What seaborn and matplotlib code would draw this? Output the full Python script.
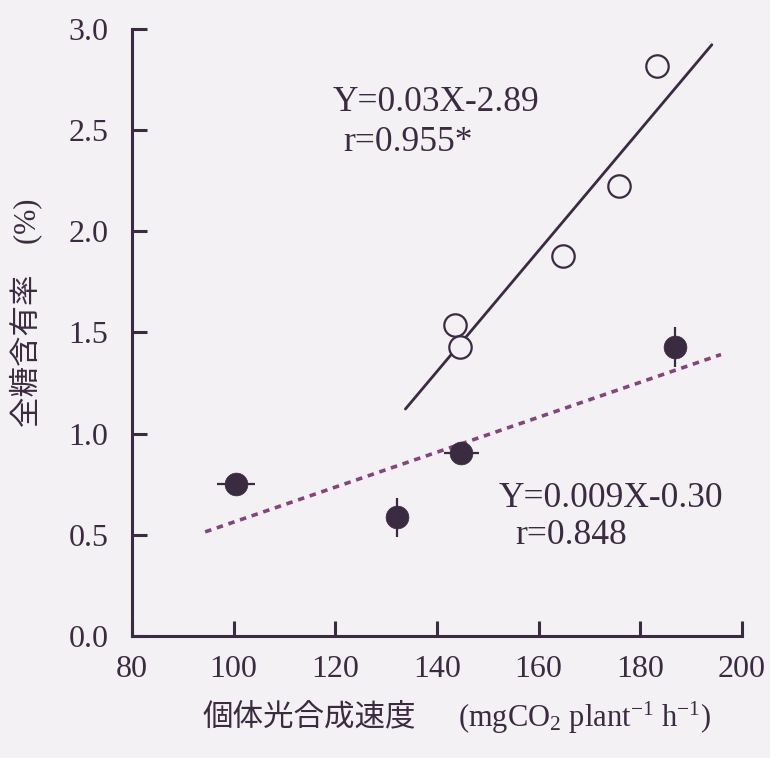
import numpy as np
import pandas as pd
import matplotlib
matplotlib.use("Agg")
import matplotlib.pyplot as plt
import seaborn as sns

# ---- data ----
open_x = [143.6, 144.6, 164.9, 175.8, 183.4]
open_y = [1.537, 1.428, 1.879, 2.225, 2.815]
fill_x = [100.5, 132.2, 144.8, 186.8]
fill_y = [0.749, 0.587, 0.905, 1.428]
fill_xerr = [3.7, 0.0, 3.5, 0.0]
fill_yerr = [0.0, 0.097, 0.03, 0.10]
open_line_range = [133.8, 194.1]
fill_line_range = [94.4, 195.9]
x_ticks = [80, 100, 120, 140, 160, 180, 200]
y_ticks = [0.0, 0.5, 1.0, 1.5, 2.0, 2.5, 3.0]
eq_open = ["Y=0.03X-2.89", "r=0.955*"]
eq_fill = ["Y=0.009X-0.30", "r=0.848"]
xlabel_jp = "個体光合成速度"
xlabel_unit = r"(mgCO$_\mathregular{2}$ plant$^\mathregular{-1}$ h$^\mathregular{-1}$)"
ylabel = "全糖含有率\u3000(%)"

DARK = "#3b2b40"
DOT = "#84457a"
BG = "#f4f1f5"

sns.set_theme(style="white")
plt.rcParams["font.family"] = ["Liberation Serif", "Noto Sans CJK JP", "DejaVu Sans"]
plt.rcParams["mathtext.fontset"] = "custom"
plt.rcParams["mathtext.rm"] = "Liberation Serif"
plt.rcParams["mathtext.it"] = "Liberation Serif:italic"

fig = plt.figure(figsize=(7.7, 7.58), dpi=100, facecolor=BG)
ax = fig.add_axes([0.1714, 0.161, 0.792, 0.801])
ax.set_facecolor(BG)

# fitted lines
po = np.polyfit(open_x, open_y, 1)
pf = np.polyfit(fill_x, fill_y, 1)
lo = pd.DataFrame({"x": open_line_range, "y": np.polyval(po, open_line_range)})
lf = pd.DataFrame({"x": fill_line_range, "y": np.polyval(pf, fill_line_range)})
sns.lineplot(data=lo, x="x", y="y", ax=ax, color=DARK, lw=2.0)
sns.lineplot(data=lf, x="x", y="y", ax=ax, color=DOT, lw=2.6,
             linestyle=(0, (1.8, 1.6)))

# error bars
ax.errorbar(fill_x, fill_y, xerr=fill_xerr, yerr=fill_yerr, fmt="none",
            ecolor=DARK, elinewidth=1.6, capsize=0, zorder=3)

# points
dfo = pd.DataFrame({"x": open_x, "y": open_y})
dff = pd.DataFrame({"x": fill_x, "y": fill_y})
sns.scatterplot(data=dfo, x="x", y="y", ax=ax, s=260, facecolor=BG,
                edgecolor=DARK, linewidth=1.6, zorder=4)
sns.scatterplot(data=dff, x="x", y="y", ax=ax, s=270, color=DARK,
                edgecolor=DARK, linewidth=0.5, zorder=4)

ax.set_xlim(80, 200)
ax.set_ylim(0, 3.0)
ax.set_xticks(x_ticks)
ax.set_yticks(y_ticks)
ax.set_xticklabels([str(t) for t in x_ticks])
ax.set_yticklabels([f"{t:.1f}" for t in y_ticks])

for s in ["top", "right"]:
    ax.spines[s].set_visible(False)
for s in ["left", "bottom"]:
    ax.spines[s].set_color(DARK)
    ax.spines[s].set_linewidth(2.2)
ax.tick_params(axis="both", direction="in", length=11, width=2.2,
               color=DARK, labelcolor=DARK, labelsize=23,
               bottom=True, left=True)
ax.tick_params(axis="x", pad=14)
ax.tick_params(axis="y", pad=17)

ax.set_xlabel("")
ax.set_ylabel(ylabel, fontsize=22, color=DARK)
ax.yaxis.set_label_coords(-0.148, 0.532)
fig.text(203 / 770, 1 - 718 / 758, xlabel_jp, fontsize=22, color=DARK,
         ha="left", va="center")
fig.text(458 / 770, 1 - 718 / 758, xlabel_unit, fontsize=22, color=DARK,
         ha="left", va="center")

ax.text(119.4, 2.636, eq_open[0], fontsize=25.5, color=DARK, va="center", ha="left")
ax.text(121.6, 2.438, eq_open[1], fontsize=25.5, color=DARK, va="center", ha="left")
ax.text(152.1, 0.681, eq_fill[0], fontsize=25.5, color=DARK, va="center", ha="left")
ax.text(155.5, 0.4975, eq_fill[1], fontsize=25.5, color=DARK, va="center", ha="left")

fig.savefig("out.png", dpi=100, facecolor=BG)
